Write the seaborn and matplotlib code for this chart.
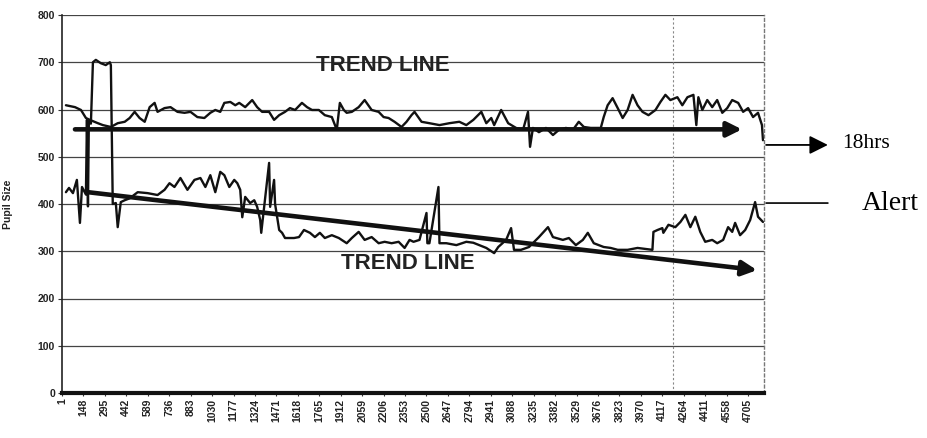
import matplotlib
matplotlib.use("Agg")
import matplotlib.pyplot as plt
import seaborn as sns
import pandas as pd

# ---------------- data ----------------
upper_x = [28, 90, 131, 165, 192, 247, 281, 336, 383, 431, 465, 499, 533, 568, 602, 636, 656, 704, 745, 793,
           841, 882, 929, 977, 1018, 1052, 1086, 1114, 1155, 1189, 1216, 1257, 1305, 1339, 1373, 1421, 1455, 1490,
           1530, 1564, 1599, 1646, 1681, 1715, 1762, 1803, 1851, 1885, 1906, 1933, 1953, 1988, 2035, 2076, 2124,
           2172, 2206, 2240, 2281, 2329, 2363, 2397, 2418, 2466, 2520, 2589, 2657, 2725, 2773, 2821, 2876, 2910,
           2944, 2964, 3012, 3060, 3114, 3162, 3196, 3210, 3230, 3271, 3319, 3367, 3408, 3456, 3504, 3544, 3579,
           3626, 3695, 3715, 3742, 3776, 3811, 3845, 3879, 3913, 3947, 3981, 4022, 4070, 4104, 4138, 4172, 4220,
           4254, 4289, 4330, 4350, 4364, 4391, 4425, 4459, 4493, 4528, 4562, 4596, 4637, 4671, 4705, 4739, 4773,
           4800, 4807]
upper_y = [609, 605, 599, 582, 578, 571, 567, 563, 571, 574, 582, 595, 582, 574, 605, 614, 595, 603, 605, 595,
           593, 595, 584, 582, 593, 599, 595, 614, 616, 609, 614, 605, 620, 605, 595, 595, 578, 588,
           595, 603, 599, 614, 605, 599, 599, 588, 584, 557, 614, 599, 593, 595, 605, 620, 599,
           595, 584, 582, 574, 563, 574, 588, 595, 574, 571, 567, 571, 574, 567, 578, 595, 571,
           582, 567, 599, 571, 561, 557, 595, 521, 561, 552, 561, 546, 557, 561, 557, 574, 563,
           561, 561, 584, 609, 624, 603, 582, 599, 631, 609, 595, 588, 599, 616, 631, 620, 626,
           609, 626, 631, 567, 626, 599, 620, 605, 620, 593, 603, 620, 614, 595, 603, 584, 593,
           567, 535]

lower_x = [28, 49, 76, 103, 124, 138, 165, 172, 179, 185, 199, 213, 233, 267, 301, 329, 336, 349, 370, 383,
           404, 431, 465, 520, 588, 656, 704, 738, 772, 813, 861, 909, 950, 984, 1018, 1052, 1086, 1114, 1148,
           1182, 1203, 1223, 1237, 1257, 1291, 1319, 1339, 1360, 1367, 1387, 1421, 1428, 1455, 1462, 1490, 1510,
           1530, 1592, 1626, 1660, 1701, 1735, 1769, 1803, 1851, 1899, 1953, 1988, 2035, 2076, 2124, 2172, 2213,
           2261, 2309, 2350, 2384, 2411, 2452, 2500, 2506, 2520, 2582, 2589, 2636, 2705, 2773, 2821, 2862, 2910,
           2964, 2992, 3046, 3080, 3100, 3148, 3203, 3271, 3333, 3367, 3435, 3476, 3524, 3572, 3606, 3647, 3715,
           3763, 3811, 3879, 3947, 4049, 4056, 4084, 4117, 4124, 4159, 4206, 4241, 4275, 4309, 4343, 4377, 4411,
           4459, 4493, 4534, 4568, 4596, 4616, 4650, 4685, 4719, 4753, 4773, 4807]
lower_y = [425, 434, 423, 451, 360, 436, 420, 578, 395, 575, 570, 700, 705, 698, 694, 700, 694, 400, 402, 351,
           404, 408, 412, 425, 423, 419, 430, 444, 436, 455, 430, 451, 455, 436, 461, 425, 468, 461, 436,
           451, 444, 430, 372, 415, 402, 408, 394, 366, 339, 394, 487, 394, 451, 400, 345, 339,
           328, 328, 330, 345, 339, 330, 339, 328, 334, 328, 317, 328, 341, 324, 330, 317, 320,
           317, 320, 307, 324, 320, 324, 381, 317, 317, 436, 317, 317, 313, 320, 318, 313, 307,
           296, 309, 324, 349, 303, 303, 309, 330, 351, 330, 324, 328, 313, 324, 339, 317, 309,
           307, 303, 303, 307, 303, 341, 345, 349, 339, 356, 351, 362, 377, 351, 373, 341, 320,
           324, 317, 324, 351, 341, 360, 334, 345, 366, 404, 373, 362]

trend_upper_x = [90, 4663]
trend_upper_y = [558, 558]
trend_lower_x = [179, 4766]
trend_lower_y = [425, 260]

x_ticks = list(range(1, 4706, 147))
x_tick_labels = [str(t) for t in x_ticks]
y_ticks = [0, 100, 200, 300, 400, 500, 600, 700, 800]

marker_x = 4190           # dotted vertical marker
hrs_level = 525           # "18hrs" arrow level
alert_level = 402         # "Alert" line level

# ---------------- figure ----------------
sns.set_style("white")
plt.rcParams["font.family"] = ["Liberation Sans", "DejaVu Sans"]

fig = plt.figure(figsize=(9.28, 4.38), dpi=100)
ax = fig.add_axes([62 / 928, 1 - 393 / 438, 702 / 928, 378 / 438])

df = pd.concat([
    pd.DataFrame({"sample": upper_x, "pupil": upper_y, "series": "upper"}),
    pd.DataFrame({"sample": lower_x, "pupil": lower_y, "series": "lower"}),
])
sns.lineplot(data=df, x="sample", y="pupil", units="series", estimator=None,
             color="#111111", linewidth=1.7, ax=ax, legend=False, sort=False)

ax.set_xlim(1, 4814)
ax.set_ylim(0, 800)
ax.set_yticks(y_ticks)
ax.set_yticklabels([str(v) for v in y_ticks], fontsize=7.5, color="#222222", fontweight="bold")
ax.set_xticks(x_ticks)
ax.set_xticklabels(x_tick_labels, rotation=90, fontsize=7.5, color="#222222", fontweight="bold")
ax.tick_params(axis="y", length=3, width=0.8, color="#333333", pad=2, direction="out", left=True)
ax.tick_params(axis="x", length=2, width=0.8, color="#333333", pad=2, direction="out", bottom=True)

for v in y_ticks[1:]:
    ax.axhline(v, color="#444444", linewidth=0.9, zorder=0)

ax.axvline(marker_x, color="#888888", linewidth=0.8, linestyle=(0, (2, 2)), zorder=0)

ax.spines["top"].set_visible(False)
ax.spines["left"].set_color("#222222")
ax.spines["left"].set_linewidth(1.2)
ax.spines["bottom"].set_color("#111111")
ax.spines["bottom"].set_linewidth(3)
ax.spines["right"].set_color("#777777")
ax.spines["right"].set_linewidth(1)
ax.spines["right"].set_linestyle((0, (2, 2)))

ax.set_xlabel("")
ax.set_ylabel("Pupil Size", fontsize=7.5, color="#222222", fontweight="bold")
ax.yaxis.set_label_coords(-0.07, 0.5)

# trend arrows
ax.annotate("", xy=(trend_upper_x[1], trend_upper_y[1]), xytext=(trend_upper_x[0], trend_upper_y[0]),
            arrowprops=dict(arrowstyle="-|>", lw=3.3, color="#111111", mutation_scale=22,
                            shrinkA=0, shrinkB=0))
ax.annotate("", xy=(trend_lower_x[1], trend_lower_y[1]), xytext=(trend_lower_x[0], trend_lower_y[0]),
            arrowprops=dict(arrowstyle="-|>", lw=3.3, color="#111111", mutation_scale=22,
                            shrinkA=0, shrinkB=0))

ax.text(2202, 694, "TREND LINE", fontsize=16, fontweight="bold", ha="center", va="center", color="#222222")
ax.text(2373, 275, "TREND LINE", fontsize=16, fontweight="bold", ha="center", va="center", color="#222222")

# outside annotations
ax.annotate("", xy=(1.091, hrs_level), xytext=(1.003, hrs_level),
            xycoords=("axes fraction", "data"), textcoords=("axes fraction", "data"),
            arrowprops=dict(arrowstyle="-|>", lw=1.3, color="black", mutation_scale=28,
                            shrinkA=0, shrinkB=0), annotation_clip=False)
ax.text(1.112, hrs_level + 2, "18hrs", transform=ax.get_yaxis_transform(), fontsize=15.5,
        family=["Liberation Serif", "DejaVu Serif"], ha="left", va="center", color="black", clip_on=False)

ax.annotate("", xy=(1.091, alert_level), xytext=(1.003, alert_level),
            xycoords=("axes fraction", "data"), textcoords=("axes fraction", "data"),
            arrowprops=dict(arrowstyle="-", lw=1.2, color="black", shrinkA=0, shrinkB=0),
            annotation_clip=False)
ax.text(1.139, alert_level - 1, "Alert", transform=ax.get_yaxis_transform(), fontsize=20,
        family=["Liberation Serif", "DejaVu Serif"], ha="left", va="center", color="black", clip_on=False)

fig.savefig("out.png", dpi=100, facecolor="white")
